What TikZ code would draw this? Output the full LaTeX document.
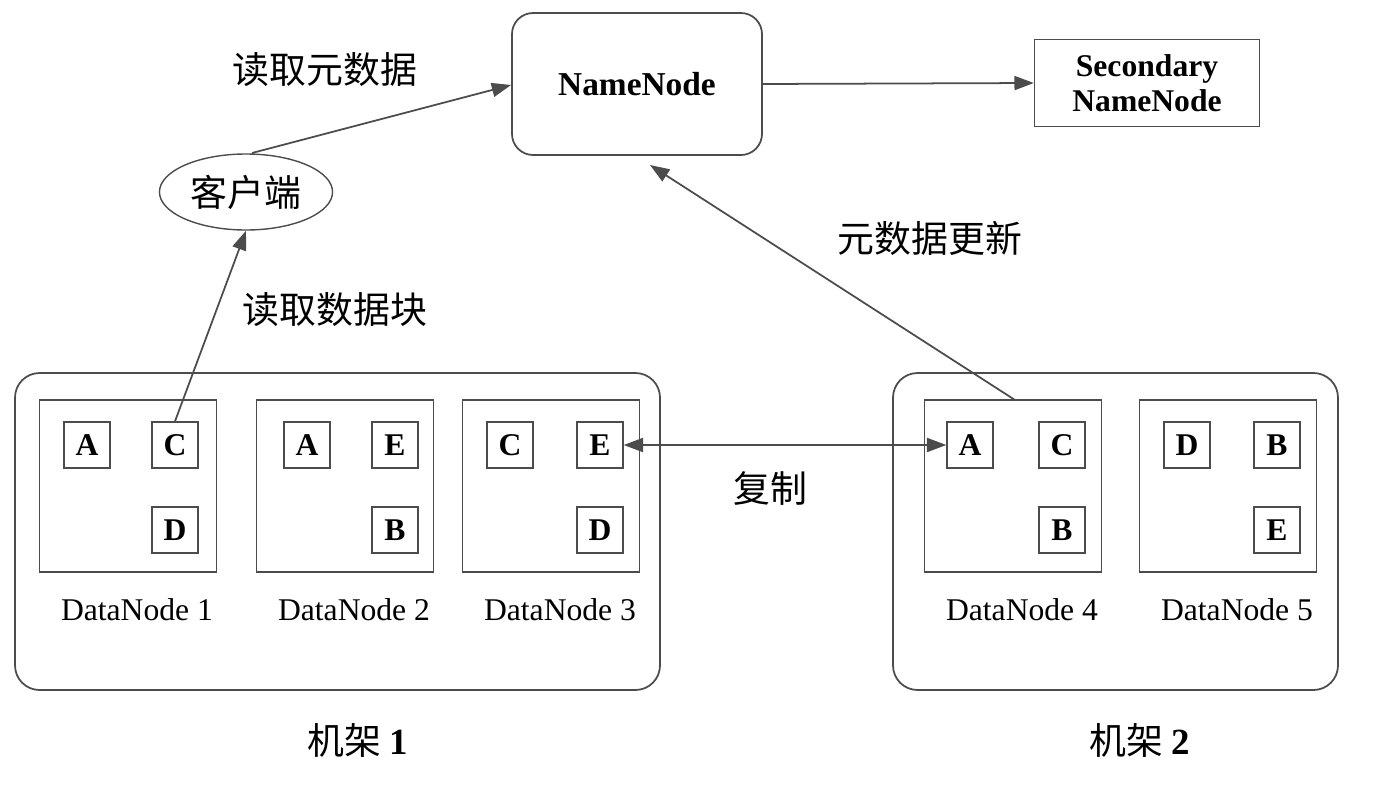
\documentclass[tikz,border=0pt]{standalone}
\usepackage{fontspec}
\setmainfont{Liberation Serif}
\newfontfamily\cjk{Noto Sans CJK SC}
\usetikzlibrary{shapes.geometric,arrows.meta}
\begin{document}
\begin{tikzpicture}[x=0.02cm,y=-0.02cm,
  ln/.style={draw=black!70,line width=1pt},
  arr/.style={ln,-{Triangle[length=11pt,width=8pt]}},
  blk/.style={draw=black!70,line width=0.8pt,minimum size=46*0.02cm,inner sep=0pt,font=\fontsize{18}{18}\selectfont\bfseries},
  dn/.style={draw=black!70,line width=0.8pt},
  lab/.style={font=\fontsize{18}{18}\selectfont},
  zh/.style={font=\cjk\fontsize{21}{21}\selectfont}]
\useasboundingbox (0,0) rectangle (1380,798);
\node[ln,rounded corners=12pt,minimum width=250*0.02cm,minimum height=142*0.02cm,font=\fontsize{19}{19}\selectfont\bfseries] (nn) at (637,84) {NameNode};
\node[dn,minimum width=225*0.02cm,minimum height=87*0.02cm,align=center,font=\fontsize{18}{20}\selectfont\bfseries] (snn) at (1147,83) {Secondary\\NameNode};
\node[ellipse,draw=black!70,line width=0.8pt,minimum width=170*0.02cm,minimum height=76*0.02cm,zh] (cl) at (246,192) {客户端};
\draw[ln,rounded corners=14pt] (15,373) rectangle (660,690);
\draw[ln,rounded corners=14pt] (893,373) rectangle (1338,690);
\foreach \n/\x in {1/40,2/257,3/463,4/925,5/1140}{
  \node[dn,minimum width=177*0.02cm,minimum height=172*0.02cm] (d\n) at (\x+88,486) {};
  \node[lab] (l\n) at (\x+97,610) {DataNode \n};
}
\node[blk] (a1) at (87,445) {A}; \node[blk] (c1) at (175,445) {C}; \node[blk] (dd1) at (175,530) {D};
\node[blk] (a2) at (307,445) {A}; \node[blk] (e2) at (395,445) {E}; \node[blk] (b2) at (395,530) {B};
\node[blk] (c3) at (510,445) {C}; \node[blk] (e3) at (600,445) {E}; \node[blk] (dd3) at (600,530) {D};
\node[blk] (a4) at (970,445) {A}; \node[blk] (c4) at (1062,445) {C}; \node[blk] (b4) at (1062,530) {B};
\node[blk] (dd5) at (1187,445) {D}; \node[blk] (b5) at (1277,445) {B}; \node[blk] (e5) at (1277,530) {E};
\coordinate (clo) at (252,153);
\coordinate (d4t) at (1015,400);
\draw[arr] (nn.east) -- (snn.west);
\draw[arr] (clo) -- (nn.west|-0,85) ;
\draw[arr] (c1.north) -- (cl.south);
\draw[arr] (d4t) -- (650,165);
\draw[ln,{Triangle[length=11pt,width=8pt]}-{Triangle[length=11pt,width=8pt]}] (e3.east) -- (a4.west);
\node[zh] (t1) at (325,70) {读取元数据};
\node[zh] (t2) at (335,310) {读取数据块};
\node[zh] (t3) at (930,238) {元数据更新};
\node[zh] (t4) at (770,488) {复制};
\node[zh] (r1) at (358,740) {机架 {\rmfamily\bfseries 1}};
\node[zh] (r2) at (1140,740) {机架 {\rmfamily\bfseries 2}};
\end{tikzpicture}
\end{document}
